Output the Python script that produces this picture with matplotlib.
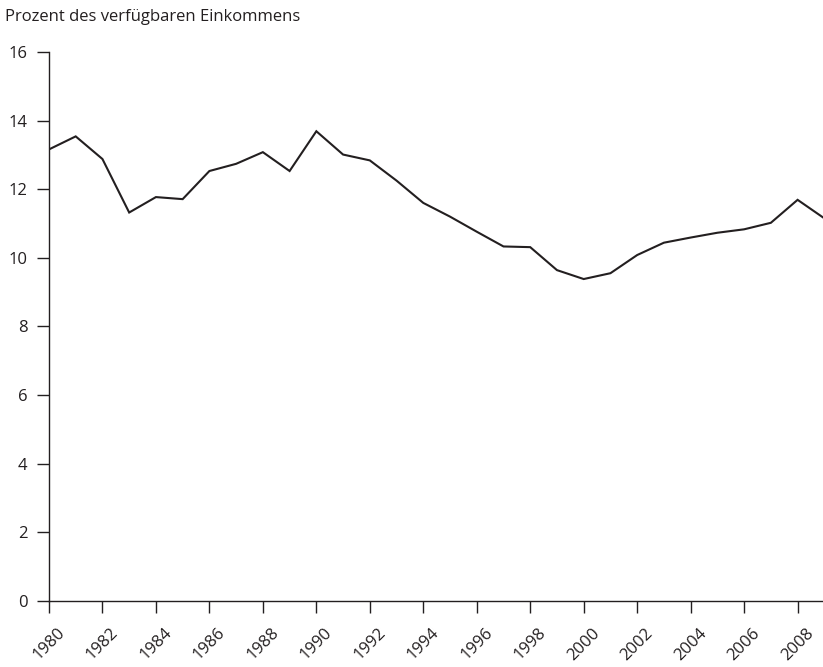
import matplotlib
matplotlib.use("Agg")
import matplotlib.pyplot as plt

plt.rcParams['font.family'] = ['Open Sans', 'DejaVu Sans']

years = list(range(1980, 2010))
sparquote = [13.16, 13.54, 12.88, 11.32, 11.77, 11.71, 12.53, 12.74, 13.08, 12.53,
             13.69, 13.01, 12.84, 12.25, 11.60, 11.20, 10.76, 10.33, 10.31, 9.64,
             9.38, 9.55, 10.08, 10.44, 10.59, 10.73, 10.83, 11.02, 11.69, 11.15]
xticks = list(range(1980, 2009, 2))
yticks = list(range(0, 17, 2))

fig = plt.figure(figsize=(8.23, 6.67), dpi=100)
ax = fig.add_axes([0.0595, 0.0994, 0.9405, 0.8226])

ax.plot(years, sparquote, color='#231f20', lw=1.5, solid_joinstyle='miter')

ax.set_xlim(1980, 2008.95)
ax.set_ylim(0, 16)
ax.set_xticks(xticks)
ax.set_yticks(yticks)
ax.set_xticklabels([str(y) for y in xticks], rotation=45, ha='center', va='top')

for s in ['top', 'right']:
    ax.spines[s].set_visible(False)
for s in ['left', 'bottom']:
    ax.spines[s].set_color('#231f20')
    ax.spines[s].set_linewidth(1.0)
ax.tick_params(axis='both', length=8.5, width=1.0, color='#231f20', labelsize=12,
               labelcolor='#231f20')
ax.tick_params(axis='x', pad=9)
ax.tick_params(axis='y', pad=7)

fig.text(0.006, 0.968, 'Prozent des verfügbaren Einkommens', fontsize=12,
         color='#231f20', ha='left', va='baseline')

fig.savefig('out.png', dpi=100)
